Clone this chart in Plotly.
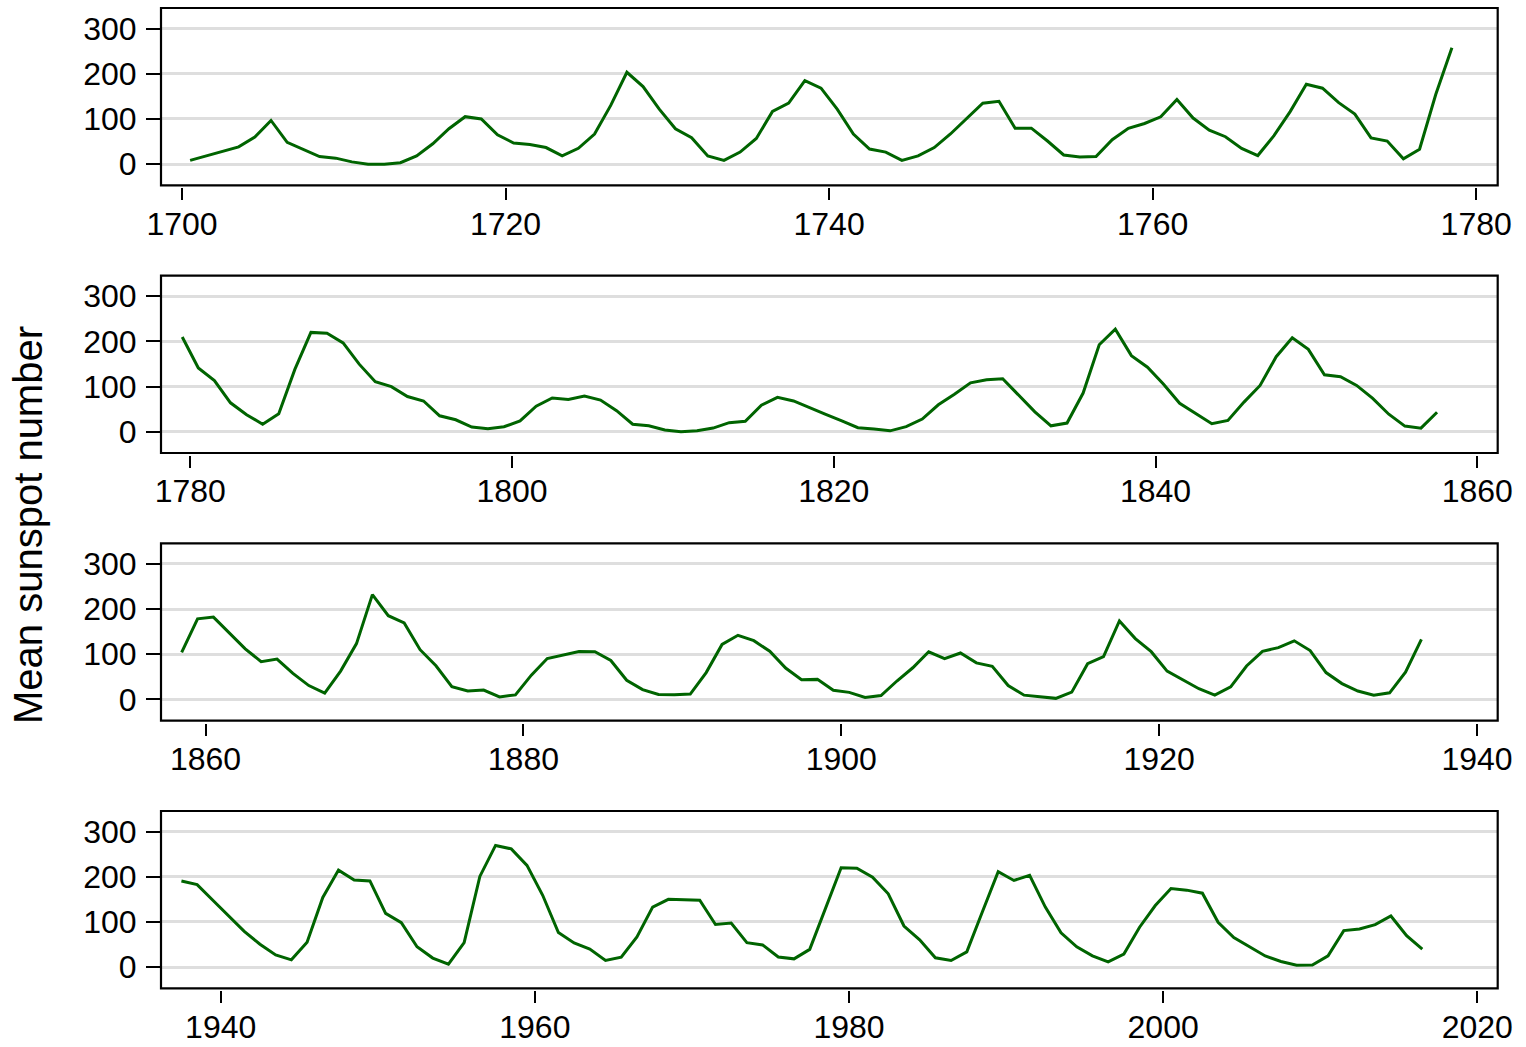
import plotly.graph_objects as go

# Yearly mean total sunspot number, 1700-2016
start_year = 1700
sunspots = [
    8.3, 18.3, 26.7, 38.3, 60.0, 96.7, 48.3, 33.3, 16.7, 13.3,
    5.0, 0.0, 0.0, 3.3, 18.3, 45.0, 78.3, 105.0, 100.0, 65.0,
    46.7, 43.3, 36.7, 18.3, 35.0, 66.7, 130.0, 203.3, 171.7, 121.7,
    78.3, 58.3, 18.3, 8.3, 26.7, 56.7, 116.7, 135.0, 185.0, 168.3,
    121.7, 66.7, 33.3, 26.7, 8.3, 18.3, 36.7, 66.7, 100.0, 134.8,
    139.0, 79.5, 79.7, 51.2, 20.3, 16.0, 17.0, 54.0, 79.3, 90.0,
    104.8, 143.2, 102.0, 75.2, 60.7, 34.8, 19.0, 63.0, 116.3, 176.8,
    168.0, 136.0, 110.8, 58.0, 51.0, 11.7, 33.0, 154.2, 257.3, 209.8,
    141.3, 113.5, 64.2, 38.0, 17.0, 40.2, 138.2, 220.0, 218.2, 196.8,
    149.8, 111.0, 100.0, 78.2, 68.3, 35.5, 26.7, 10.7, 6.8, 11.3,
    24.2, 56.7, 75.0, 71.8, 79.2, 70.3, 46.8, 16.8, 13.5, 4.2,
    0.0, 2.3, 8.3, 20.3, 23.2, 59.0, 76.3, 68.3, 52.9, 38.5,
    24.2, 9.2, 6.3, 2.2, 11.4, 28.2, 59.9, 83.0, 108.5, 115.2,
    117.4, 80.8, 44.3, 13.4, 19.5, 85.8, 192.7, 227.3, 168.7, 143.0,
    105.5, 63.3, 40.3, 18.1, 25.1, 65.8, 102.7, 166.3, 208.3, 182.5,
    126.3, 122.0, 102.7, 74.1, 39.0, 12.7, 8.2, 43.4, 104.4, 178.3,
    182.2, 146.6, 112.1, 83.5, 89.2, 57.8, 30.7, 13.9, 62.8, 123.6,
    232.0, 185.3, 169.2, 110.1, 74.5, 28.3, 18.9, 20.7, 5.7, 10.0,
    53.7, 90.5, 99.0, 106.1, 105.8, 86.3, 42.4, 21.8, 11.2, 10.4,
    11.8, 59.5, 121.7, 142.0, 130.0, 106.6, 69.4, 43.8, 44.4, 20.2,
    15.7, 4.6, 8.5, 40.8, 70.1, 105.5, 90.1, 102.8, 80.9, 73.2,
    30.9, 9.5, 6.0, 2.4, 16.1, 79.0, 95.0, 173.6, 134.6, 105.7,
    62.7, 43.5, 23.7, 9.7, 27.9, 74.0, 106.5, 114.7, 129.7, 108.2,
    59.4, 35.1, 18.6, 9.2, 14.6, 60.2, 132.8, 190.6, 182.6, 148.0,
    113.0, 79.2, 50.8, 27.1, 16.1, 55.3, 154.3, 214.7, 193.0, 190.7,
    118.9, 98.3, 45.0, 20.1, 6.6, 54.2, 200.7, 269.3, 261.7, 225.1,
    159.0, 76.4, 53.4, 39.9, 15.0, 22.0, 66.8, 132.9, 150.0, 149.4,
    148.0, 94.4, 97.6, 54.1, 49.2, 22.5, 18.4, 39.3, 131.0, 220.1,
    218.9, 198.9, 162.4, 91.0, 60.5, 20.6, 14.8, 33.9, 123.0, 211.1,
    191.8, 203.3, 133.0, 76.1, 44.9, 25.1, 11.6, 28.9, 88.3, 136.3,
    173.9, 170.4, 163.6, 99.3, 65.3, 45.8, 24.7, 12.6, 4.2, 4.8,
    24.9, 80.8, 84.5, 94.0, 113.3, 69.8, 39.8,
]
years = list(range(start_year, start_year + len(sunspots)))
# first year shown in each panel
panel_starts = [1700, 1779, 1858, 1937]
y_ticks = [0, 100, 200, 300]
x_tick_step = 20
y_title = "Mean sunspot number"

# panel x-axis ranges (years)
x_ranges = [[1698.7, 1781.33], [1778.18, 1861.27], [1857.2, 1941.3], [1936.2, 2021.3]]
y_range = [-46.8, 345.5]

W, H = 1526, 1047
box_left, box_right = 161.0, 1497.7
box_tops = [8.0, 275.7, 543.3, 811.0]
box_h = 177.3
tick_gap = 2.0

FONT = "Liberation Sans, Arial, Helvetica, sans-serif"
GREEN = "#006400"

fig = go.Figure()
layout = dict(
    width=W, height=H, margin=dict(l=0, r=0, t=0, b=0, autoexpand=False),
    paper_bgcolor="white", plot_bgcolor="white", showlegend=False,
    font=dict(family=FONT, size=32, color="black"),
)
shapes = []
bounds = panel_starts + [years[-1] + 1]
for i in range(4):
    idx = [k for k, yr in enumerate(years) if bounds[i] <= yr < bounds[i + 1]]
    xs = [years[k] + 0.5 for k in idx]
    ys = [sunspots[k] for k in idx]
    sfx = "" if i == 0 else str(i + 1)
    fig.add_trace(go.Scatter(
        x=xs, y=ys, mode="lines", line=dict(color=GREEN, width=3),
        xaxis="x" + sfx, yaxis="y" + sfx, hoverinfo="skip",
    ))
    top = box_tops[i]
    bot = top + box_h
    layout["xaxis" + sfx] = dict(
        domain=[box_left / W, box_right / W], range=x_ranges[i],
        anchor="free", position=1 - (bot + tick_gap) / H, automargin=False,
        tickmode="linear", tick0=0, dtick=x_tick_step,
        ticks="outside", ticklen=12, tickwidth=2, tickcolor="black",
        showline=False, showgrid=False, zeroline=False,
        tickfont=dict(size=32, family=FONT, color="black"),
        ticklabelstandoff=-4,
    )
    layout["yaxis" + sfx] = dict(
        domain=[1 - bot / H, 1 - top / H], range=y_range,
        anchor="x" + sfx, automargin=False, tickmode="array", tickvals=y_ticks,
        ticks="outside", ticklen=14, tickwidth=2, tickcolor="black",
        showline=False, showgrid=True, gridcolor="#dedede", gridwidth=2.5,
        zeroline=False,
        tickfont=dict(size=32, family=FONT, color="black"),
        ticklabelstandoff=3,
    )
    shapes.append(dict(
        type="rect", xref="x" + sfx + " domain", yref="y" + sfx + " domain",
        x0=0, x1=1, y0=0, y1=1, line=dict(color="black", width=2.2),
        fillcolor="rgba(0,0,0,0)", layer="above",
    ))

layout["shapes"] = shapes
layout["annotations"] = [dict(
    text=y_title, xref="paper", yref="paper",
    x=27.5 / W, y=1 - 525.5 / H, xanchor="center", yanchor="middle",
    textangle=-90, showarrow=False, font=dict(size=40, family=FONT, color="black"),
)]
fig.update_layout(**layout)
fig.write_html("out.html")
